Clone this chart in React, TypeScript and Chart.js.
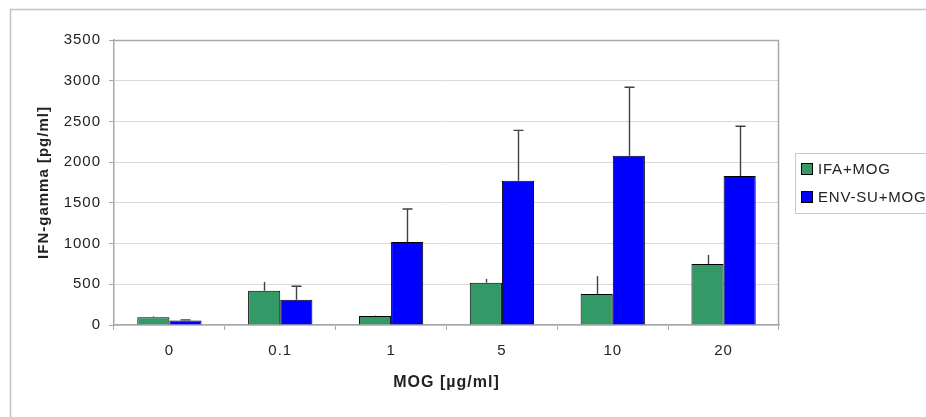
import { useEffect, useRef } from "react";
import { Chart, registerables } from "chart.js";

Chart.register(...registerables);

const categories = ["0", "0.1", "1", "5", "10", "20"];
const ifaMog = [95, 420, 110, 520, 380, 750];
const ifaMogErr = [10, 110, 5, 45, 220, 110];
const envSuMog = [55, 310, 1020, 1770, 2080, 1830];
const envSuMogErr = [8, 165, 405, 620, 840, 610];
const seriesNames = ["IFA+MOG", "ENV-SU+MOG"];
const seriesColors = ["#339966", "#0000ff"];
const errorSets = [ifaMogErr, envSuMogErr];
const errorCaps = [false, true];

const FONT = "'Liberation Sans', Arial, sans-serif";

const framePlugin = {
  id: "frame",
  beforeDraw(chart: any) {
    const ctx = chart.ctx;
    ctx.save();
    ctx.fillStyle = "#ffffff";
    ctx.fillRect(0, 0, chart.width, chart.height);
    ctx.strokeStyle = "#c4c4c4";
    ctx.lineWidth = 1.5;
    ctx.strokeRect(10.5, 9.5, chart.width + 20, chart.height + 20);
    ctx.restore();
    ctx.letterSpacing = "1px";
  },
  afterDraw(chart: any) {
    const ctx = chart.ctx;
    const a = chart.chartArea;
    ctx.save();
    ctx.strokeStyle = "#a8a8a8";
    ctx.lineWidth = 1.5;
    ctx.beginPath();
    ctx.moveTo(a.left, a.top + 0.5);
    ctx.lineTo(a.right - 0.5, a.top + 0.5);
    ctx.lineTo(a.right - 0.5, a.bottom);
    ctx.stroke();
    const lx = 795.5;
    const ly = 153.5;
    ctx.strokeStyle = "#c8c8c8";
    ctx.lineWidth = 1;
    ctx.strokeRect(lx, ly, 200, 60);
    ctx.font = "15px " + FONT;
    ctx.letterSpacing = "0.8px";
    ctx.textBaseline = "middle";
    ctx.textAlign = "left";
    const rows = [169, 197];
    seriesNames.forEach((name, i) => {
      const cy = rows[i];
      ctx.fillStyle = seriesColors[i];
      ctx.fillRect(801, cy - 6, 11, 11);
      ctx.strokeStyle = "#000000";
      ctx.lineWidth = 1;
      ctx.strokeRect(801.5, cy - 5.5, 11, 11);
      ctx.fillStyle = "#222222";
      ctx.fillText(name, 818, cy + 1);
    });
    ctx.restore();
  },
};

const errorBarPlugin = {
  id: "errorBars",
  afterDatasetsDraw(chart: any) {
    const ctx = chart.ctx;
    const yScale = chart.scales.y;
    ctx.save();
    ctx.strokeStyle = "#404040";
    ctx.lineWidth = 1.4;
    chart.data.datasets.forEach((ds: any, i: number) => {
      const meta = chart.getDatasetMeta(i);
      const errs = errorSets[i];
      meta.data.forEach((el: any, j: number) => {
        const v = ds.data[j];
        const top = yScale.getPixelForValue(v + errs[j]);
        const x = Math.round(el.x) + 0.5;
        ctx.beginPath();
        ctx.moveTo(x, el.y);
        ctx.lineTo(x, top);
        if (errorCaps[i]) {
          ctx.moveTo(x - 5, top);
          ctx.lineTo(x + 5, top);
        }
        ctx.stroke();
      });
    });
    ctx.restore();
  },
};

export default function App() {
  const ref = useRef<HTMLCanvasElement>(null);
  useEffect(() => {
    if (!ref.current) return;
    const chart = new Chart(ref.current, {
      type: "bar",
      data: {
        labels: categories,
        datasets: [
          {
            label: seriesNames[0],
            data: ifaMog,
            backgroundColor: seriesColors[0],
            borderColor: "#000000",
            borderWidth: 1,
            categoryPercentage: 0.58,
            barPercentage: 1,
          },
          {
            label: seriesNames[1],
            data: envSuMog,
            backgroundColor: seriesColors[1],
            borderColor: "#000000",
            borderWidth: 1,
            categoryPercentage: 0.58,
            barPercentage: 1,
          },
        ],
      },
      options: {
        animation: false,
        responsive: true,
        maintainAspectRatio: false,
        layout: { padding: { left: 0, right: 147, top: 40, bottom: 0 } },
        plugins: {
          legend: { display: false },
          tooltip: { enabled: false },
        },
        scales: {
          x: {
            grid: {
              display: true,
              drawOnChartArea: false,
              drawTicks: true,
              tickLength: 5,
              tickColor: "#a8a8a8",
            },
            border: { color: "#a8a8a8", width: 1.5 },
            ticks: {
              color: "#222222",
              font: { family: FONT, size: 15 },
              padding: 12,
            },
            title: {
              display: true,
              text: "MOG [µg/ml]",
              color: "#222222",
              font: { family: FONT, size: 16, weight: "bold" },
              padding: { top: 0, bottom: 25 },
            },
            afterFit(scale: any) {
              scale.height = 92;
            },
          },
          y: {
            min: 0,
            max: 3500,
            ticks: {
              stepSize: 500,
              color: "#222222",
              font: { family: FONT, size: 15 },
              padding: 8,
              callback: (v: any) => String(v),
            },
            grid: {
              color: "#d9d9d9",
              lineWidth: 1,
              tickLength: 5,
              tickColor: "#a8a8a8",
            },
            border: { color: "#a8a8a8", width: 1.5 },
            title: {
              display: true,
              text: "IFN-gamma [pg/ml]",
              color: "#222222",
              font: { family: FONT, size: 15, weight: "bold" },
              padding: { top: 35, bottom: 0 },
            },
            afterFit(scale: any) {
              scale.width = 114;
            },
          },
        },
      },
      plugins: [framePlugin, errorBarPlugin],
    });
    return () => chart.destroy();
  }, []);
  return (
    <div style={{ position: "absolute", left: 0, top: 0, width: 926, height: 417 }}>
      <canvas ref={ref} />
    </div>
  );
}
